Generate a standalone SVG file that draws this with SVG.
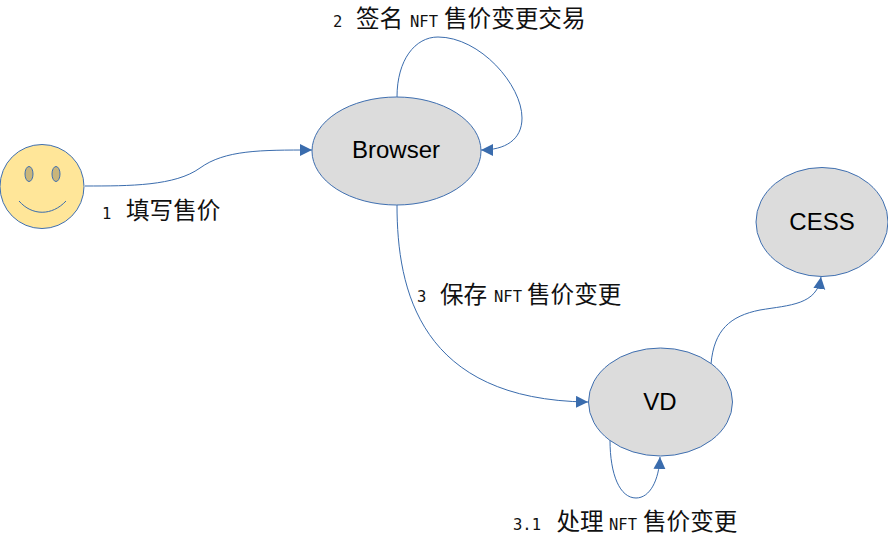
<svg xmlns="http://www.w3.org/2000/svg" width="888" height="540" viewBox="0 0 888 540">
<style>
.n{fill:#dcdcdc;stroke:#3f6fb0;stroke-width:1}
.f{fill:#ffe699;stroke:#3f6fb0;stroke-width:1}
.e{fill:#c9b57a;stroke:#3f6fb0;stroke-width:1}
.c{fill:none;stroke:#3a6cad;stroke-width:1}
.t{font-family:"Liberation Sans",Arial,sans-serif;font-size:24px;fill:#000;text-anchor:middle}
.cjk{font-family:"Noto Sans CJK SC",sans-serif;font-size:23.6px;fill:#111}
.m{font-family:"DejaVu Sans Mono",monospace;font-size:15.5px;fill:#111}
</style>
<defs><marker id="a" markerUnits="userSpaceOnUse" markerWidth="13" markerHeight="13" refX="12" refY="6" orient="auto"><path d="M0 0L12 6L0 12Z" fill="#3a6cad"/></marker></defs>
<g id="connectors">
<path class="c" marker-end="url(#a)" d="M85 186C130 186 175 186 200 168C225 150 260 150 312 150"/>
<path class="c" marker-end="url(#a)" d="M397 97C397 60 415 37 438 37C480 37 522 85 522 118C522 140 505 150 481 150"/>
<path class="c" marker-end="url(#a)" d="M397 205C397 290 420 400 588 402"/>
<path class="c" marker-end="url(#a)" d="M610 440C610 475 620 498 636 498C650 498 659 480 660 457"/>
<path class="c" marker-end="url(#a)" d="M711 364C714 330 730 316 760 310C790 305 817 305 821 277"/>
</g>
<g id="user">
<circle class="f" cx="42" cy="186.500" r="42"/>
<ellipse class="e" cx="29" cy="174" rx="4" ry="7.5"/>
<ellipse class="e" cx="56" cy="174" rx="4" ry="7.5"/>
<path class="c" d="M19 201C32 216 52 216 66 201"/>
</g>
<g id="browser"><ellipse class="n" cx="396.500" cy="151" rx="84.500" ry="54"/><text class="t" x="396" y="158">Browser</text></g>
<g id="vd"><ellipse class="n" cx="660.500" cy="402" rx="72" ry="54"/><text class="t" x="660" y="410">VD</text></g>
<g id="cess"><ellipse class="n" cx="822" cy="222" rx="66" ry="54.500"/><text class="t" x="822" y="230">CESS</text></g>
<g id="labels">
<text class="m" x="102" y="219">1</text><text class="cjk" x="126" y="219">填写售价</text>
<text class="m" x="333" y="27">2</text><text class="cjk" x="356" y="27">签名</text><text class="m" x="410" y="27">NFT</text><text class="cjk" x="444" y="27">售价变更交易</text>
<text class="m" x="417" y="302">3</text><text class="cjk" x="440" y="303">保存</text><text class="m" x="494" y="302">NFT</text><text class="cjk" x="527" y="303">售价变更</text>
<text class="m" x="513" y="530">3.1</text><text class="cjk" x="556.500" y="530">处理</text><text class="m" x="609" y="530">NFT</text><text class="cjk" x="643" y="530">售价变更</text>
</g>
</svg>
